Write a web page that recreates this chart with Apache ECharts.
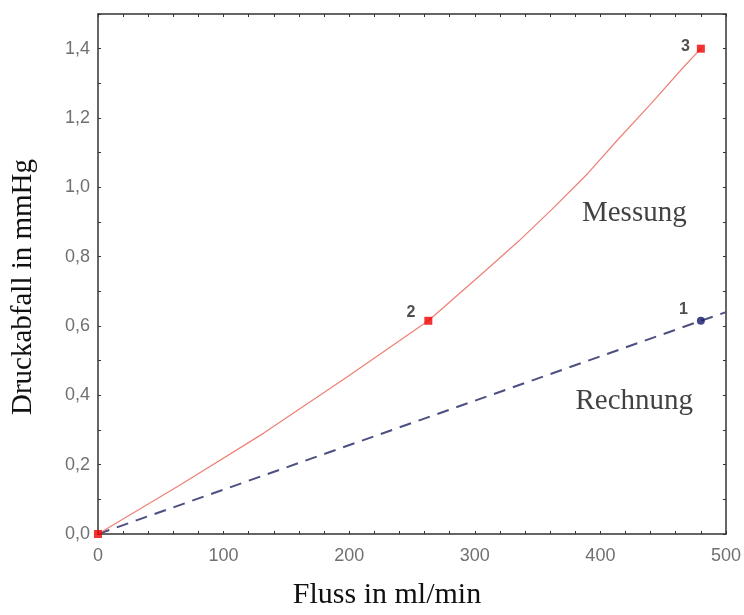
<!DOCTYPE html>
<html>
<head>
<meta charset="utf-8">
<script src="https://cdn.jsdelivr.net/npm/echarts@6/dist/echarts.min.js"></script>
<style>html,body{margin:0;padding:0;background:#fff}#c{width:744px;height:615px}</style>
</head>
<body>
<div id="c"></div>
<script>
// Data (Fluss in ml/min, Druckabfall in mmHg)
const messungX = [0, 66, 132, 198, 263, 308, 335, 361, 390, 414, 440, 467, 480];
const messungY = [0, 0.143, 0.291, 0.452, 0.615, 0.758, 0.845, 0.935, 1.04, 1.138, 1.24, 1.35, 1.40];
const rechnungX = [0, 480, 500];
const rechnungY = [0, 0.615, 0.64];
const markedMessung = [[0, 0, ''], [263, 0.615, '2'], [480, 1.40, '3']];
const markedRechnung = [[480, 0.615, '1']];
const annotations = [[427, 0.924, 'Messung'], [427, 0.383, 'Rechnung']];
const xTitle = 'Fluss in ml/min';
const yTitle = 'Druckabfall in mmHg';

const zip = (xs, ys) => xs.map((x, i) => [x, ys[i]]);
const serif = 'Liberation Serif';
const axisLineStyle = { color: '#333', width: 1.5 };
const labelOffsets = { '1': [-4, -11], '2': [-4, -8], '3': [-2, -2], '': [0, 0] };
const withOffsets = pts => pts.map(p => ({ value: p, label: { offset: labelOffsets[p[2]] } }));

const chart = echarts.init(document.getElementById('c'), null, { renderer: 'canvas' });
chart.setOption({
  animation: false,
  backgroundColor: '#fff',
  grid: { left: 98, right: 16, top: 14, bottom: 72 },
  xAxis: [{
    type: 'value', min: 0, max: 500, interval: 20,
    name: xTitle, nameLocation: 'middle', nameGap: 46,
    nameTextStyle: { fontFamily: serif, fontSize: 30, color: '#111', padding: [0, 50, 0, 0] },
    axisLine: { lineStyle: axisLineStyle },
    axisTick: { inside: true, length: 3, lineStyle: { color: '#333' } },
    axisLabel: { color: '#707070', fontFamily: 'Liberation Sans', fontSize: 18, margin: 13,
      formatter: v => (Math.round(v) % 100 === 0 ? String(v) : '') },
    splitLine: { show: false }
  }, {
    type: 'value', position: 'top', min: 0, max: 500, interval: 20,
    axisLine: { show: true, onZero: false, lineStyle: axisLineStyle },
    axisTick: { inside: true, length: 3, lineStyle: { color: '#333' } },
    axisLabel: { show: false }, splitLine: { show: false }
  }],
  yAxis: [{
    type: 'value', min: 0, max: 1.5, interval: 0.1,
    name: yTitle, nameLocation: 'middle', nameGap: 60,
    nameTextStyle: { fontFamily: serif, fontSize: 29, color: '#111', padding: [0, 26, 0, 0] },
    axisLine: { show: true, lineStyle: axisLineStyle },
    axisTick: { show: true, inside: true, length: 3, lineStyle: { color: '#333' } },
    axisLabel: { color: '#707070', fontFamily: 'Liberation Sans', fontSize: 18, margin: 8,
      formatter: v => {
        const k = Math.round(v * 10);
        return (k % 2 === 0 && k < 15) ? (k / 10).toFixed(1).replace('.', ',') : '';
      } },
    splitLine: { show: false }
  }, {
    type: 'value', position: 'right', min: 0, max: 1.5, interval: 0.1,
    axisLine: { show: true, onZero: false, lineStyle: axisLineStyle },
    axisTick: { show: true, inside: true, length: 3, lineStyle: { color: '#333' } },
    axisLabel: { show: false }, splitLine: { show: false }
  }],
  series: [{
    name: 'Rechnung', type: 'line', data: zip(rechnungX, rechnungY),
    showSymbol: false, symbol: 'none',
    lineStyle: { color: '#4d4f80', width: 2, type: [12, 8] }, z: 2
  }, {
    name: 'Messung', type: 'line', data: zip(messungX, messungY),
    showSymbol: false, symbol: 'none',
    lineStyle: { color: '#ee8075', width: 1.2 }, z: 3
  }, {
    name: 'MessungPunkte', type: 'scatter', data: withOffsets(markedMessung),
    symbol: 'rect', symbolSize: 8, itemStyle: { color: '#ee0000' }, z: 5,
    label: { show: true, formatter: p => p.value[2], position: 'left',
      fontFamily: 'Liberation Sans', fontWeight: 'bold', fontSize: 16, color: '#222' }
  }, {
    name: 'RechnungPunkte', type: 'scatter', data: withOffsets(markedRechnung),
    symbol: 'circle', symbolSize: 8, itemStyle: { color: '#13186a' }, z: 5,
    label: { show: true, formatter: p => p.value[2], position: 'left',
      fontFamily: 'Liberation Sans', fontWeight: 'bold', fontSize: 16, color: '#222' }
  }, {
    name: 'Beschriftung', type: 'scatter', data: annotations,
    symbolSize: 0, silent: true, z: 6,
    label: { show: true, position: 'inside', formatter: p => p.data[2],
      fontFamily: serif, fontSize: 29, color: '#111' }
  }]
});
</script>
</body>
</html>
